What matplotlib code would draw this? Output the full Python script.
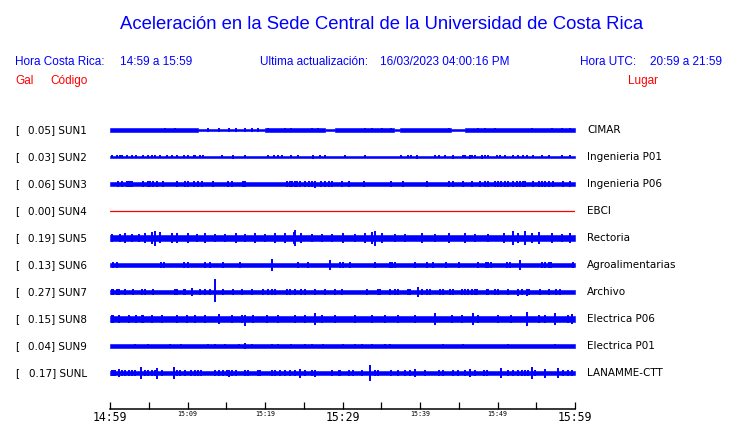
import numpy as np
import matplotlib
matplotlib.use("Agg")
import matplotlib.pyplot as plt


# ============================================================
# DATA
# ============================================================

TITLE = "Aceleración en la Sede Central de la Universidad de Costa Rica"
LOCAL_TIME = "14:59 a 15:59"
UPDATED = "16/03/2023 04:00:16 PM"
UTC_TIME = "20:59 a 21:59"

CODES = ["SUN1", "SUN2", "SUN3", "SUN4", "SUN5", "SUN6", "SUN7", "SUN8", "SUN9", "SUNL"]
PLACES = ["CIMAR", "Ingenieria P01", "Ingenieria P06", "EBCI", "Rectoria",
          "Agroalimentarias", "Archivo", "Electrica P06", "Electrica P01", "LANAMME-CTT"]
GAL = [0.05, 0.03, 0.06, 0.00, 0.19, 0.13, 0.27, 0.15, 0.04, 0.17]

# minutes after 14:59
TICK_MINUTES = list(range(0, 61, 5))
TICK_LABELS = ["14:59", "", "15:09", "", "15:19", "", "15:29", "", "15:39", "", "15:49", "", "15:59"]
BIG_LABELS = ["14:59", "15:29", "15:59"]

# trace envelopes: bands (t0, t1, half height in px) and spikes (t, half) or (t, up, down)
SUN1_BANDS = [(0, 11.4, 1.6), (11.4, 20.0, 0.6), (20.0, 27.7, 1.6), (27.7, 29.0, 0.6),
              (29.0, 36.6, 1.6), (36.6, 37.4, 0.6), (37.4, 44.0, 1.6), (44.0, 45.8, 0.6),
              (45.8, 60, 1.6)]
SUN1_SPIKES = [(7.1, 2.2), (8.4, 2.2), (12.7, 1.6), (14.0, 1.6), (15.3, 1.6), (16.3, 1.6),
               (17.4, 1.6), (18.3, 1.6), (19.1, 1.6), (20.4, 2.2), (22.6, 2.2), (23.4, 2.2),
               (26.0, 2.2), (26.9, 2.2), (32.9, 2.2), (33.8, 2.2), (35.1, 2.2), (36.3, 2.4),
               (43.7, 2.2), (47.5, 2.2), (48.4, 2.2), (49.7, 2.2), (54.4, 2.2), (57.0, 2.2),
               (58.3, 2.2), (59.4, 2.2)]

SUN2_BANDS = [(0, 60, 0.6)]
SUN2_SPIKES = [(0.2, 1.5), (0.9, 1.5), (1.3, 1.5), (1.5, 1.5), (2.2, 1.5), (2.8, 1.5),
               (3.4, 1.5), (4.3, 1.5), (4.9, 1.5), (5.4, 1.5), (5.8, 1.5), (6.5, 1.5),
               (7.3, 1.5), (8.0, 1.5), (8.6, 1.5), (9.5, 1.5), (10.1, 1.5), (10.8, 1.5),
               (11.0, 1.5), (11.6, 1.5), (12.0, 1.5), (14.4, 1.5), (15.9, 2.2), (17.4, 1.5),
               (20.4, 1.5), (21.1, 1.5), (21.7, 1.5), (22.2, 1.5), (23.4, 1.5), (24.3, 1.5),
               (26.2, 1.8), (27.1, 1.5), (27.7, 1.5), (30.3, 1.5), (32.9, 1.5), (37.6, 1.5),
               (38.5, 1.5), (38.9, 1.5), (39.6, 1.8), (41.9, 1.5), (42.4, 1.5), (43.2, 1.5),
               (44.3, 1.8), (45.6, 1.5), (45.8, 1.5), (46.5, 1.8), (46.7, 1.5), (47.1, 1.5),
               (48.0, 1.8), (48.4, 1.5), (48.8, 1.5), (49.9, 1.5), (50.3, 1.5), (51.0, 1.5),
               (52.0, 1.5), (52.7, 1.5), (53.3, 1.5), (53.8, 1.5), (54.6, 1.5), (55.7, 1.5),
               (56.6, 1.5), (58.3, 1.5), (59.4, 1.5)]

SUN3_BANDS = [(0, 60, 1.8)]
SUN3_SPIKES = [(1.0, 2.6), (1.5, 2.6), (2.2, 2.6), (2.4, 2.6), (2.6, 2.6), (2.8, 2.6),
               (4.2, 2.6), (4.9, 2.6), (5.2, 2.6), (5.6, 2.6), (6.0, 2.6), (6.9, 2.6),
               (8.7, 2.6), (9.7, 2.6), (10.1, 2.6), (10.9, 2.6), (11.4, 2.6), (11.9, 2.6),
               (13.3, 2.6), (15.2, 2.6), (15.7, 2.6), (17.1, 2.6), (17.4, 2.6), (22.9, 2.6),
               (23.2, 2.6), (23.5, 2.6), (23.9, 2.6), (24.1, 2.6), (24.5, 2.6), (25.2, 2.6),
               (25.7, 2.6), (26.0, 2.6), (26.4, 2.6, 3.6), (27.2, 2.6), (27.8, 2.6), (28.2, 2.6),
               (28.7, 2.6), (29.9, 2.6), (30.8, 2.6), (32.8, 2.6), (36.3, 2.6), (37.8, 2.6),
               (40.9, 2.6), (43.7, 2.6), (44.3, 2.6), (45.6, 2.6), (46.7, 2.6), (47.7, 2.6),
               (48.4, 2.6), (48.8, 2.6), (49.7, 2.6), (50.1, 2.6), (50.5, 2.6), (51.0, 2.6),
               (51.4, 2.6), (52.0, 2.6), (52.5, 2.6), (52.9, 2.6), (53.3, 2.6), (53.5, 2.6),
               (54.6, 2.6), (55.3, 2.6), (55.7, 2.6), (56.1, 2.6), (56.6, 2.6), (57.2, 2.6),
               (58.5, 2.6), (59.4, 2.6)]

SUN4_BANDS = []
SUN4_SPIKES = []

SUN5_BANDS = [(0, 60, 3.3)]
SUN5_SPIKES = [(0.2, 4.2), (1.3, 4.2), (1.9, 4.7), (2.8, 4.2), (3.7, 4.2), (4.5, 4.7),
               (5.4, 6.0), (5.8, 7.3, 7.6), (6.5, 5.5), (8.0, 4.7), (8.6, 5.0), (10.1, 4.7),
               (11.2, 4.2), (12.3, 4.7), (13.5, 4.2), (14.8, 4.2), (16.3, 4.7), (17.4, 4.2),
               (18.7, 4.7), (20.0, 4.2), (21.3, 5.0), (22.6, 4.7), (23.7, 6.0), (23.9, 7.5, 8.0),
               (24.7, 5.0), (26.0, 4.2), (27.3, 4.2), (28.6, 4.2), (30.1, 4.7), (31.6, 4.2),
               (32.9, 4.7), (33.8, 6.0), (34.2, 7.3, 8.0), (35.1, 5.0), (36.8, 4.2), (38.1, 4.2),
               (40.2, 4.7), (41.9, 4.2), (43.7, 4.7), (45.8, 4.7), (47.1, 4.2), (48.8, 4.2),
               (50.8, 5.0), (52.0, 7.0), (52.7, 5.0), (53.6, 7.0), (54.4, 5.0), (55.3, 6.0),
               (57.0, 4.7), (58.3, 4.2), (59.4, 5.0)]

SUN6_BANDS = [(0, 60, 1.9)]
SUN6_SPIKES = [(0.4, 2.8), (0.9, 2.8), (6.6, 2.8), (7.0, 2.8), (9.5, 2.8), (10.1, 2.8),
               (12.3, 2.8), (12.9, 2.8), (14.6, 2.8), (16.8, 2.8), (20.9, 5.7, 6.3), (24.2, 3.2),
               (25.6, 2.8), (28.4, 5.0), (29.7, 2.8), (30.0, 2.8), (31.0, 2.8), (34.2, 2.8),
               (36.1, 2.8), (36.4, 2.8), (36.8, 3.2), (39.4, 2.8), (40.9, 2.8), (41.7, 2.8),
               (43.3, 2.8), (45.0, 2.8), (47.5, 2.8), (48.5, 2.8), (48.8, 2.8), (49.2, 2.8),
               (51.2, 2.8), (51.6, 2.8), (52.9, 4.5), (55.7, 2.8), (56.1, 2.8), (56.6, 2.8),
               (56.9, 2.8), (59.8, 2.8)]

SUN7_BANDS = [(0, 60, 1.9)]
SUN7_SPIKES = [(0.2, 2.8), (0.4, 2.8), (0.9, 2.8), (1.1, 2.8), (1.9, 2.8), (3.0, 2.8),
               (4.1, 2.8), (4.5, 2.8), (5.6, 2.8), (8.4, 2.8), (8.7, 2.8), (9.5, 2.8),
               (9.7, 2.8), (10.6, 4.0), (11.6, 2.8), (12.3, 2.8), (12.9, 2.8), (13.5, 12.7, 9.7),
               (14.6, 2.8), (15.9, 2.8), (17.0, 2.8), (18.3, 2.8), (19.8, 2.8), (20.4, 2.8),
               (20.9, 2.8), (21.3, 2.8), (22.8, 2.8), (23.2, 2.8), (23.9, 2.8), (24.7, 2.8),
               (25.2, 2.8), (26.5, 2.8), (27.7, 2.8), (29.0, 2.8), (29.9, 2.8), (33.1, 2.8),
               (34.6, 2.8), (34.8, 2.8), (36.1, 2.8), (36.8, 2.8), (37.2, 2.8), (38.5, 2.8),
               (38.7, 2.8), (39.8, 4.5), (40.2, 2.8), (40.9, 2.8), (41.3, 2.8), (42.6, 2.8),
               (43.0, 2.8), (43.9, 2.8), (44.3, 2.8), (45.4, 2.8), (45.8, 2.8), (46.2, 2.8),
               (46.7, 3.2), (47.1, 2.8), (47.3, 2.8), (48.6, 2.8), (48.8, 2.8), (49.7, 2.8),
               (50.1, 2.8), (51.4, 2.8), (52.7, 3.5), (53.1, 2.8), (53.8, 3.5), (54.0, 2.8),
               (55.5, 2.8), (56.6, 2.8), (57.6, 2.8), (58.1, 2.8)]

SUN8_BANDS = [(0, 60, 3.0)]
SUN8_SPIKES = [(0.2, 4.2), (0.4, 4.0), (1.1, 4.0), (2.4, 4.0), (3.4, 4.0), (4.1, 4.0),
               (4.3, 4.0), (5.4, 4.0), (6.7, 4.0), (8.6, 4.0), (9.9, 4.0), (11.0, 4.0),
               (12.3, 4.0), (14.0, 5.0), (15.7, 4.0), (17.0, 4.0), (17.4, 4.0, 7.0), (18.5, 4.0),
               (20.2, 4.0), (21.7, 4.0), (23.9, 4.0), (25.2, 4.0), (26.5, 6.0), (27.3, 4.0),
               (29.0, 4.0), (31.6, 4.0), (33.8, 4.0), (35.5, 4.0), (37.2, 4.0), (39.4, 4.0),
               (41.9, 6.0), (44.1, 4.0), (45.4, 4.0), (46.9, 6.0), (47.5, 4.0), (50.1, 4.0),
               (51.8, 4.0), (53.8, 7.0), (55.3, 4.0), (56.1, 4.0), (57.4, 6.0), (59.1, 4.0),
               (59.6, 5.0)]

SUN9_BANDS = [(0, 60, 1.9)]
SUN9_SPIKES = [(3.2, 2.4), (4.9, 2.4), (7.7, 2.4), (9.2, 2.4), (12.7, 2.4), (13.5, 2.4),
               (14.8, 2.4), (16.6, 2.4), (17.4, 3.0), (18.3, 2.4), (20.9, 2.4), (21.7, 2.4),
               (23.4, 2.4), (25.2, 2.4), (26.0, 2.4), (27.5, 2.4), (30.1, 2.4), (31.6, 2.4),
               (32.5, 2.4), (33.8, 2.4), (35.5, 2.4), (36.1, 2.4), (43.0, 2.4), (45.6, 2.4),
               (51.4, 2.4), (57.4, 2.4)]

SUNL_BANDS = [(0, 60, 1.9)]
SUNL_SPIKES = [(0.2, 2.9), (0.4, 2.9), (0.6, 2.9), (1.1, 4.0), (1.5, 2.9), (1.9, 2.9),
               (2.4, 2.9), (2.8, 2.9), (3.2, 2.9), (4.0, 6.0), (4.5, 2.9), (4.9, 2.9),
               (5.4, 2.9), (5.8, 2.9), (6.1, 5.5), (6.7, 2.9), (8.3, 6.0), (8.6, 2.9),
               (9.0, 2.9), (9.7, 2.9), (10.5, 2.9), (11.0, 2.9), (11.4, 2.9), (11.8, 2.9),
               (13.5, 2.9), (14.0, 2.9), (14.6, 2.9), (15.1, 2.9), (15.4, 3.5), (15.7, 2.9),
               (16.3, 2.9), (17.4, 2.9), (17.8, 2.9), (19.1, 2.9), (19.4, 2.9), (20.9, 2.9),
               (21.3, 2.9), (21.9, 2.9), (22.6, 2.9), (23.2, 2.9), (23.9, 2.9), (24.5, 4.5),
               (25.2, 2.9), (26.0, 2.9), (26.4, 3.5), (28.6, 2.9), (29.5, 2.9), (29.7, 2.9),
               (30.8, 2.9), (31.4, 2.9), (32.5, 2.9), (33.5, 7.7, 8.0), (34.2, 2.9), (34.6, 2.9),
               (36.3, 2.9), (37.2, 2.9), (38.1, 2.9), (38.7, 2.9), (39.4, 4.0), (40.6, 2.9),
               (42.4, 2.9), (43.0, 2.9), (44.3, 2.9), (44.9, 2.9), (45.8, 2.9), (46.5, 4.0),
               (47.1, 2.9), (48.2, 2.9), (48.6, 2.9), (50.5, 5.0), (51.4, 2.9), (52.0, 2.9),
               (52.7, 2.9), (53.1, 2.9), (53.5, 2.9), (53.9, 2.9), (54.4, 6.0), (54.8, 2.9),
               (56.1, 4.5), (57.8, 5.0), (58.5, 2.9), (59.1, 2.9), (59.6, 2.9)]

BANDS = [SUN1_BANDS, SUN2_BANDS, SUN3_BANDS, SUN4_BANDS, SUN5_BANDS,
         SUN6_BANDS, SUN7_BANDS, SUN8_BANDS, SUN9_BANDS, SUNL_BANDS]
SPIKES = [SUN1_SPIKES, SUN2_SPIKES, SUN3_SPIKES, SUN4_SPIKES, SUN5_SPIKES,
          SUN6_SPIKES, SUN7_SPIKES, SUN8_SPIKES, SUN9_SPIKES, SUNL_SPIKES]


# ============================================================
# LAYOUT
# ============================================================

W, H = 740, 423
ROW_PX = 27.0          # pixels between traces
ROW0_PX = 130          # pixel y of the first trace
AX_TOP, AX_BOTTOM = 118, 409
BLUE = "#0000ff"
RED = "#ff0000"
HEAD_FONT = "Liberation Sans"

fig = plt.figure(figsize=(W / 100, H / 100), dpi=100)
fig.patch.set_facecolor("white")

# axes spans x 110..575 px, y 118..409 px (from top); y unit = one trace row
ax = fig.add_axes([110 / W, (H - AX_BOTTOM) / H, 465 / W, (AX_BOTTOM - AX_TOP) / H])
ax.set_xlim(0, 60)
ax.set_ylim((AX_BOTTOM - ROW0_PX) / ROW_PX, (AX_TOP - ROW0_PX) / ROW_PX)
for s in ["top", "left", "right"]:
    ax.spines[s].set_visible(False)
ax.spines["bottom"].set_linewidth(1.1)
ax.set_yticks([])


def px(v):
    return v / ROW_PX


# ============================================================
# TRACES
# ============================================================

for irow, (bands, spikes) in enumerate(zip(BANDS, SPIKES)):
    if CODES[irow] == "SUN4":
        ax.plot([0, 60], [irow, irow], color=RED, lw=0.9)
        continue
    for t0, t1, half in bands:
        ax.fill_between([t0, t1], irow - px(half), irow + px(half),
                        color=BLUE, lw=0.4)
    ts = [s[0] for s in spikes]
    tops = [irow - px(s[1]) for s in spikes]
    bottoms = [irow + px(s[-1]) for s in spikes]
    ax.vlines(ts, tops, bottoms, color=BLUE, lw=1.4)


# ============================================================
# TIME AXIS
# ============================================================

ax.set_xticks(TICK_MINUTES)
ax.set_xticklabels(TICK_LABELS, family="DejaVu Sans Mono")
ax.tick_params(axis="x", direction="in", length=5, width=0.9, pad=1.5, colors="black")
for lab in ax.get_xticklabels():
    lab.set_fontsize(8.3 if lab.get_text() in BIG_LABELS else 4.8)


# ============================================================
# TEXT
# ============================================================

def ftext(x, y, s, **kw):
    fig.text(x / W, 1 - y / H, s, **kw)


ftext(382, 29, TITLE, color=BLUE, fontsize=13.3, family=HEAD_FONT, ha="center", va="baseline")

ftext(15, 65, "Hora Costa Rica:", color=BLUE, fontsize=8.5, family=HEAD_FONT, va="baseline")
ftext(120, 65, LOCAL_TIME, color=BLUE, fontsize=8.5, family=HEAD_FONT, va="baseline")
ftext(260, 65, "Ultima actualización:", color=BLUE, fontsize=8.5, family=HEAD_FONT, va="baseline")
ftext(380, 65, UPDATED, color=BLUE, fontsize=8.5, family=HEAD_FONT, va="baseline")
ftext(580, 65, "Hora UTC:", color=BLUE, fontsize=8.5, family=HEAD_FONT, va="baseline")
ftext(650, 65, UTC_TIME, color=BLUE, fontsize=8.5, family=HEAD_FONT, va="baseline")

ftext(15, 84, "Gal", color=RED, fontsize=8.5, family=HEAD_FONT, va="baseline")
ftext(50, 84, "Código", color=RED, fontsize=8.5, family=HEAD_FONT, va="baseline")
ftext(628, 84, "Lugar", color=RED, fontsize=8.5, family=HEAD_FONT, va="baseline")

for irow in range(len(CODES)):
    ypix = ROW0_PX + irow * ROW_PX
    ftext(15, ypix, "[", fontsize=7.5, va="center")
    ftext(87, ypix, f"{GAL[irow]:.2f}] {CODES[irow]}", fontsize=7.5, va="center", ha="right")
    ftext(587, ypix, PLACES[irow], fontsize=7.5, va="center")

fig.savefig("out.png", dpi=100)
